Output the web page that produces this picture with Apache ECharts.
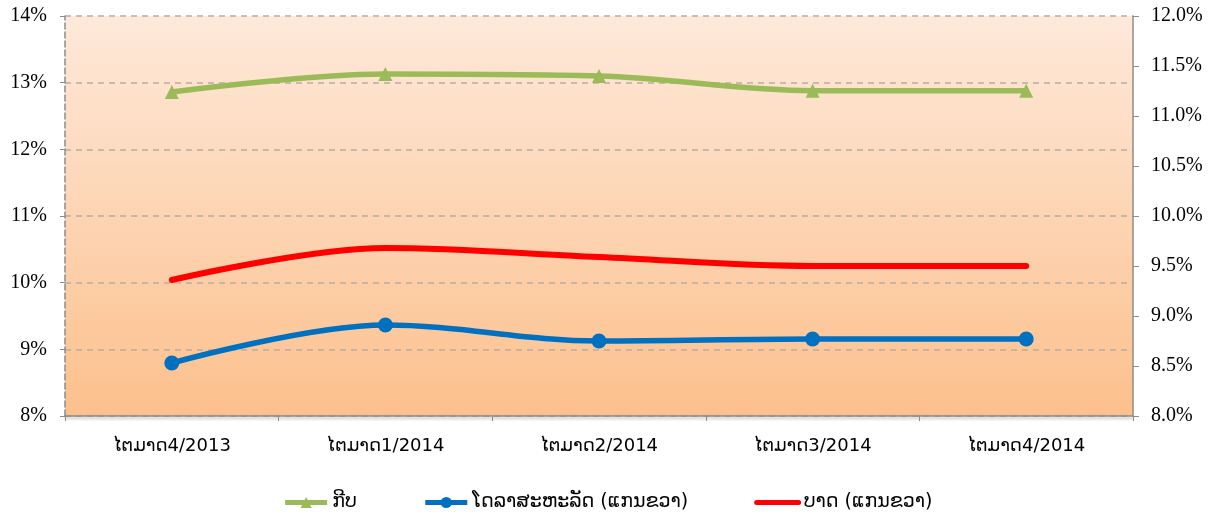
<!DOCTYPE html>
<html>
<head>
<meta charset="utf-8">
<script src="https://cdn.jsdelivr.net/npm/echarts@6/dist/echarts.min.js"></script>
<style>
html,body{margin:0;padding:0;background:#fff;}
#main{width:1215px;height:517px;}
</style>
</head>
<body>
<div id="main"></div>
<script>
const categories = ['ໄຕມາດ4/2013','ໄຕມາດ1/2014','ໄຕມາດ2/2014','ໄຕມາດ3/2014','ໄຕມາດ4/2014'];
const kipValues = [12.86, 13.13, 13.10, 12.88, 12.88];
const usdValues = [8.53, 8.91, 8.75, 8.77, 8.77];
const bahtValues = [9.36, 9.68, 9.59, 9.50, 9.50];
const seriesNames = ['ກີບ', 'ໂດລາສະຫະລັດ (ແກນຂວາ)', 'ບາດ (ແກນຂວາ)'];

const chart = echarts.init(document.getElementById('main'));
const serif = '"Liberation Serif", "Times New Roman", serif';
const laoFont = '"DejaVu Sans", "Noto Sans", sans-serif';
chart.setOption({
  animation: false,
  grid: {
    left: 65, right: 82, top: 16, bottom: 101,
    show: true,
    borderWidth: 0,
    backgroundColor: new echarts.graphic.LinearGradient(0, 0, 0, 1, [
      {offset: 0, color: '#fee9da'},
      {offset: 1, color: '#fcc08c'}
    ])
  },
  legend: {
    bottom: 0,
    left: 'center',
    itemWidth: 42,
    itemHeight: 14,
    itemGap: 66,
    lineStyle: {width: 5},
    textStyle: {fontFamily: laoFont, fontSize: 19, color: '#000'},
    data: [
      {name: seriesNames[0]},
      {name: seriesNames[1]},
      {name: seriesNames[2], itemStyle: {opacity: 0}}
    ]
  },
  xAxis: {
    type: 'category',
    data: categories,
    boundaryGap: true,
    axisLine: {lineStyle: {color: '#8c8c8c', width: 1.5, shadowColor: 'rgba(0,0,0,0.3)', shadowBlur: 3, shadowOffsetY: 2}},
    axisTick: {show: true, length: 5, lineStyle: {color: '#8c8c8c'}},
    axisLabel: {fontFamily: laoFont, fontSize: 18, color: '#000', margin: 21}
  },
  yAxis: [
    {
      type: 'value', min: 8, max: 14, interval: 1, position: 'left',
      axisLine: {show: true, lineStyle: {color: '#8c8c8c', type: 'dashed', width: 1.5}},
      axisTick: {show: true, length: 5, lineStyle: {color: '#8c8c8c'}},
      axisLabel: {fontFamily: serif, fontSize: 20, color: '#000', formatter: '{value}%', margin: 18},
      splitLine: {show: true, lineStyle: {color: '#b8ada3', type: [6, 5], width: 1.5}}
    },
    {
      type: 'value', min: 8, max: 12, interval: 0.5, position: 'right',
      axisLine: {show: true, lineStyle: {color: '#8c8c8c', width: 1.5}},
      axisTick: {show: true, length: 6, lineStyle: {color: '#8c8c8c'}},
      axisLabel: {fontFamily: serif, fontSize: 20, color: '#000', margin: 18,
        formatter: v => v.toFixed(1) + '%'},
      splitLine: {show: false}
    }
  ],
  series: [
    {
      name: seriesNames[0], type: 'line', yAxisIndex: 0, data: kipValues,
      smooth: 0.35, symbol: 'triangle', symbolSize: 14,
      lineStyle: {color: '#9bbb59', width: 5.5},
      itemStyle: {color: '#9bbb59'}
    },
    {
      name: seriesNames[1], type: 'line', yAxisIndex: 1, data: usdValues,
      smooth: 0.35, symbol: 'circle', symbolSize: 15,
      lineStyle: {color: '#0070c0', width: 5.5},
      itemStyle: {color: '#0070c0'}
    },
    {
      name: seriesNames[2], type: 'line', yAxisIndex: 1, data: bahtValues,
      smooth: 0.35, symbol: 'none', showSymbol: false,
      lineStyle: {color: '#ff0000', width: 6, cap: 'round'},
      itemStyle: {color: '#ff0000'}
    }
  ]
});
</script>
</body>
</html>
